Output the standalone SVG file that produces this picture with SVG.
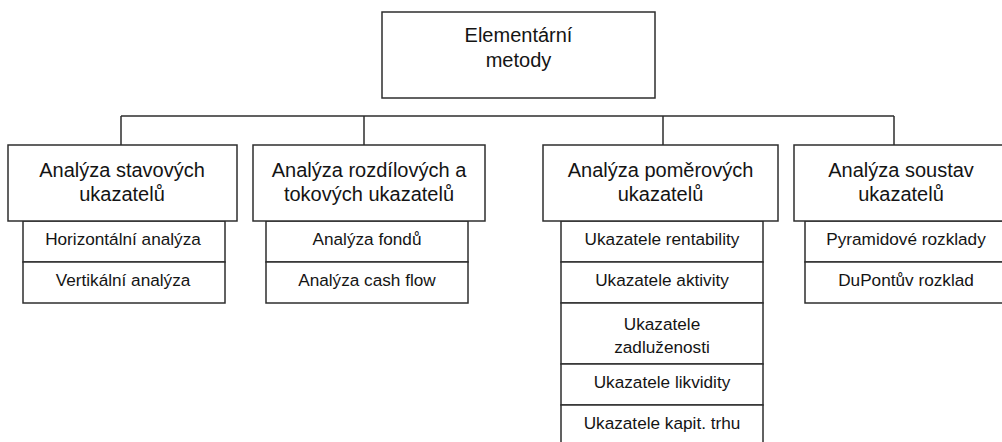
<svg xmlns="http://www.w3.org/2000/svg" width="1002" height="442" viewBox="0 0 1002 442">
<style>
.b{fill:#fff;stroke:#2e2e2e;stroke-width:1.5}
.c{fill:none;stroke:#2e2e2e;stroke-width:1.5}
.h{font-family:"Liberation Sans",Arial,sans-serif;font-size:20px;fill:#141414;text-anchor:middle}
.s{font-family:"Liberation Sans",Arial,sans-serif;font-size:17.2px;fill:#141414;text-anchor:middle}
</style>
<rect width="1002" height="442" fill="#fff"/>
<g id="connectors">
<path class="c" d="M121,116H894M121,116V145M364,116V145M663,116V145M894,116V145"/>
</g>
<g id="root">
<rect class="b" x="382" y="12" width="273" height="86"/>
<text class="h" x="518.5" y="42" font-size="21">Elementární</text>
<text class="h" x="518.5" y="67" font-size="21">metody</text>
</g>
<g id="n1">
<rect class="b" x="23" y="221" width="202" height="41"/>
<text class="s" x="123" y="245">Horizontální analýza</text>
<rect class="b" x="23" y="262" width="202" height="41"/>
<text class="s" x="123" y="286">Vertikální analýza</text>
<rect class="b" x="8" y="145" width="229" height="76"/>
<text class="h" x="122" y="177">Analýza stavových</text>
<text class="h" x="122" y="201">ukazatelů</text>
</g>
<g id="n2">
<rect class="b" x="266" y="221" width="202" height="41"/>
<text class="s" x="367" y="245">Analýza fondů</text>
<rect class="b" x="266" y="262" width="202" height="41"/>
<text class="s" x="367" y="286">Analýza cash flow</text>
<rect class="b" x="253" y="145" width="232" height="76"/>
<text class="h" x="369" y="177">Analýza rozdílových a</text>
<text class="h" x="369" y="201">tokových ukazatelů</text>
</g>
<g id="n3">
<rect class="b" x="561" y="221" width="202" height="41"/>
<text class="s" x="662" y="245">Ukazatele rentability</text>
<rect class="b" x="561" y="262" width="202" height="41"/>
<text class="s" x="662" y="286">Ukazatele aktivity</text>
<rect class="b" x="561" y="303" width="202" height="61"/>
<text class="s" x="662" y="330">Ukazatele</text>
<text class="s" x="662" y="353">zadluženosti</text>
<rect class="b" x="561" y="364" width="202" height="41"/>
<text class="s" x="662" y="388">Ukazatele likvidity</text>
<rect class="b" x="561" y="405" width="202" height="41"/>
<text class="s" x="662" y="429">Ukazatele kapit. trhu</text>
<rect class="b" x="543" y="145" width="235" height="76"/>
<text class="h" x="660.5" y="177">Analýza poměrových</text>
<text class="h" x="660.5" y="201">ukazatelů</text>
</g>
<g id="n4">
<rect class="b" x="805" y="221" width="203" height="41"/>
<text class="s" x="906" y="245">Pyramidové rozklady</text>
<rect class="b" x="805" y="262" width="203" height="41"/>
<text class="s" x="906" y="286">DuPontův rozklad</text>
<rect class="b" x="794" y="145" width="214" height="76"/>
<text class="h" x="901" y="177">Analýza soustav</text>
<text class="h" x="901" y="201">ukazatelů</text>
</g>
</svg>
